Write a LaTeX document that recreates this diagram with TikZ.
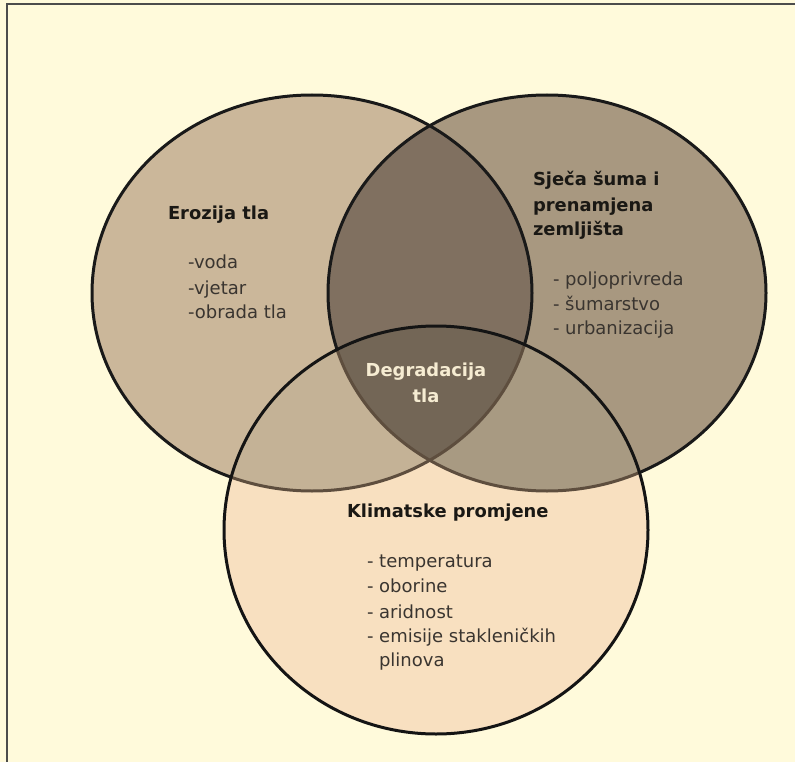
\documentclass[tikz,border=0pt]{standalone}
\usepackage{fontspec}
\setmainfont{DejaVu Sans}
\definecolor{bgc}{HTML}{FFFADB}
\definecolor{cL}{HTML}{CBB79A}
\definecolor{cR}{HTML}{A89880}
\definecolor{cB}{HTML}{F8E0C0}
\definecolor{cLR}{HTML}{807060}
\definecolor{cLB}{HTML}{C4B296}
\definecolor{cRB}{HTML}{A89A82}
\definecolor{cC}{HTML}{736656}
\definecolor{fadeline}{HTML}{5E4E3E}
\definecolor{txt}{HTML}{3A3530}
\definecolor{ttl}{HTML}{1A1814}
\definecolor{ctxt}{HTML}{F6ECD2}
\begin{document}
\begin{tikzpicture}[x=1pt,y=-1pt,
  every node/.style={inner sep=0pt, outer sep=0pt},
  ttlstyle/.style={anchor=base west, font=\bfseries\fontsize{17.9}{25}\selectfont, text=ttl},
  itemstyle/.style={anchor=base west, font=\fontsize{18}{25}\selectfont, text=txt},
  ctrstyle/.style={anchor=base, font=\bfseries\fontsize{17.9}{25}\selectfont, text=ctxt},
  outline/.style={line width=3pt}]
\def\ellL{(312,293) ellipse [x radius=220pt, y radius=198pt]}
\def\ellR{(547,293) ellipse [x radius=219pt, y radius=198pt]}
\def\ellB{(436,530) ellipse [x radius=212pt, y radius=204pt]}
\useasboundingbox (0,0) rectangle (795,762);
\fill[bgc] (0,0) rectangle (795,762);
\draw[line width=2pt, color=black!70] (7,762) -- (7,4) -- (795,4);
% base fills
\fill[cL] \ellL;
\fill[cR] \ellR;
\fill[cB] \ellB;
% overlaps
\begin{scope}
  \clip \ellL;
  \fill[cLB] \ellB;
\end{scope}
\begin{scope}
  \clip \ellR;
  \fill[cRB] \ellB;
\end{scope}
\begin{scope}
  \clip \ellL;
  \fill[cLR] \ellR;
\end{scope}
\begin{scope}
  \clip \ellL;
  \clip \ellR;
  \fill[cC] \ellB;
\end{scope}
% outlines
\begin{scope}[even odd rule]
  \clip (-10,-10) rectangle (805,772) \ellB;
  \draw[outline, black!90] \ellL;
  \draw[outline, black!90] \ellR;
\end{scope}
\begin{scope}
  \clip \ellB;
  \draw[outline, fadeline] \ellL;
  \draw[outline, fadeline] \ellR;
\end{scope}
\draw[outline, black!92] \ellB;
% texts
\node[ttlstyle] (t1) at (168,219) {Erozija tla};
\node[itemstyle] (i1a) at (188,269) {-voda};
\node[itemstyle] (i1b) at (188,294) {-vjetar};
\node[itemstyle] (i1c) at (188,318) {-obrada tla};
\node[ttlstyle] (t2a) at (533,186) {Sječa šuma i};
\node[ttlstyle] (t2b) at (533,212) {prenamjena};
\node[ttlstyle] (t2c) at (533,236) {zemljišta};
\node[itemstyle] (i2a) at (553,285) {- poljoprivreda};
\node[itemstyle] (i2b) at (553,310) {- šumarstvo};
\node[itemstyle] (i2c) at (553,334) {- urbanizacija};
\node[ctrstyle] (ca) at (426,376) {Degradacija};
\node[ctrstyle] (cb) at (426,402) {tla};
\node[ttlstyle] (t3) at (347,517) {Klimatske promjene};
\node[itemstyle] (i3a) at (367,567) {- temperatura};
\node[itemstyle] (i3b) at (367,592) {- oborine};
\node[itemstyle] (i3c) at (367,618) {- aridnost};
\node[itemstyle] (i3d) at (367,642) {- emisije stakleničkih};
\node[itemstyle] (i3e) at (379,666) {plinova};
\end{tikzpicture}
\end{document}
